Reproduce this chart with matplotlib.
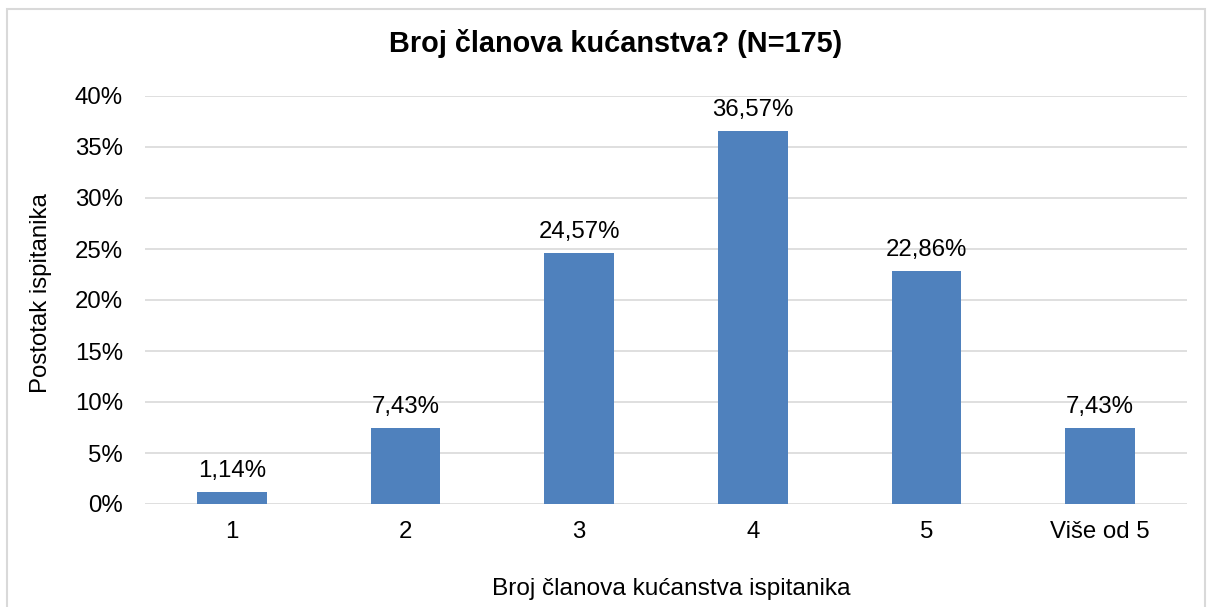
import numpy as np
import matplotlib.pyplot as plt
from matplotlib.patches import Rectangle
from matplotlib.ticker import PercentFormatter

categories = ["1", "2", "3", "4", "5", "Više od 5"]
values = [1.14, 7.43, 24.57, 36.57, 22.86, 7.43]
yticks = [0, 5, 10, 15, 20, 25, 30, 35, 40]

plt.rcParams['font.family'] = ['Liberation Sans', 'DejaVu Sans']
W, H = 1213, 607
fs = 17.3

fig = plt.figure(figsize=(W / 100, H / 100), dpi=100)
ax = fig.add_axes([145 / W, 1 - 504 / H, 1042 / W, 408 / H])

# light grey frame around the whole chart
fig.add_artist(Rectangle((7 / W, -0.05), 1198 / W, 1 - 9 / H + 0.05,
                         transform=fig.transFigure, fill=False,
                         edgecolor="#D9D9D9", linewidth=1.5))

x = np.arange(len(categories))
ax.bar(x, values, width=0.4, color="#4F81BD", zorder=3)

for xi, v in zip(x, values):
    ax.annotate(f"{v:.2f}%".replace(".", ","), (xi, v), xytext=(0, 11),
                textcoords="offset points", ha="center", va="baseline",
                fontsize=fs, color="#000000")

ax.set_xlim(-0.5, len(categories) - 0.5)
ax.set_ylim(0, 40)
ax.set_yticks(yticks)
ax.yaxis.set_major_formatter(PercentFormatter(decimals=0))
ax.set_xticks(x)
ax.set_xticklabels(categories)
ax.tick_params(axis="both", length=0, labelsize=fs, colors="#000000")
ax.tick_params(axis="x", pad=12)
ax.tick_params(axis="y", pad=16)
ax.grid(axis="y", color="#D9D9D9", linewidth=1.2, zorder=0)
for s in ax.spines.values():
    s.set_visible(False)

fig.text(41 / W, 1 - 293 / H, "Postotak ispitanika", rotation=90,
         ha="center", va="center", fontsize=fs)
fig.text(671 / W, 1 - 595 / H, "Broj članova kućanstva ispitanika",
         ha="center", va="baseline", fontsize=17.6)
fig.text(615.5 / W, 1 - 52 / H, "Broj članova kućanstva? (N=175)",
         ha="center", va="baseline", fontsize=20.8, fontweight="bold")

fig.savefig("out.png", dpi=100, facecolor="white")
